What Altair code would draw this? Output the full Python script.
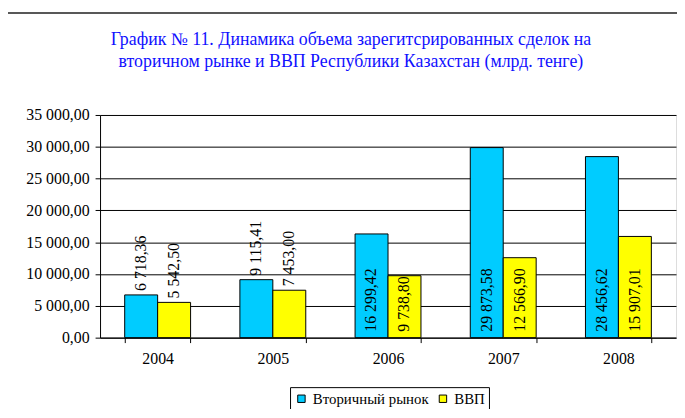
import altair as alt
import pandas as pd

years = ["2004", "2005", "2006", "2007", "2008"]
secondary = [6718.36, 9115.41, 16299.42, 29873.58, 28456.62]
gdp = [5542.50, 7453.00, 9738.80, 12566.90, 15907.01]
series_names = ["Вторичный рынок", "ВВП"]
series_colors = ["#00CCFF", "#FFFF00"]
y_ticks = [0, 5000, 10000, 15000, 20000, 25000, 30000, 35000]
title_lines = [
    "График № 11. Динамика объема зарегитсрированных сделок на",
    "вторичном рынке и ВВП Республики Казахстан (млрд. тенге)",
]

rows = []
for i, yr in enumerate(years):
    rows.append({"year": yr, "series": series_names[0], "value": secondary[i]})
    rows.append({"year": yr, "series": series_names[1], "value": gdp[i]})
df = pd.DataFrame(rows)

FONT = "Liberation Serif"

xenc = alt.X(
    "year:N",
    title=None,
    scale=alt.Scale(paddingInner=0.428, paddingOuter=0.214),
    axis=alt.Axis(
        labelAngle=0, labelFont=FONT, labelFontSize=16, labelColor="#000",
        tickBand="extent", tickSize=5, tickColor="#000", domainColor="#000",
        labelPadding=8, grid=False,
    ),
)
xoff = alt.XOffset("series:N", scale=alt.Scale(domain=series_names, paddingInner=0, paddingOuter=0))
yaxis = alt.Axis(
    values=y_ticks, format=",.2f", labelFont=FONT, labelFontSize=16, labelColor="#000",
    tickSize=5, tickColor="#000", domainColor="#000", labelPadding=6, labelOverlap=False,
    grid=True, gridColor="#000", gridWidth=1,
)
yscale = alt.Scale(domain=[0, 35000], nice=False)
yenc = alt.Y("value:Q", title=None, scale=yscale, axis=yaxis)

base = alt.Chart(df)

bars = base.mark_bar(stroke="#000", strokeWidth=1).encode(
    x=xenc,
    xOffset=xoff,
    y=yenc,
    color=alt.Color(
        "series:N",
        scale=alt.Scale(domain=series_names, range=series_colors),
        legend=alt.Legend(
            title=None, orient="none", legendX=192, legendY=275, direction="horizontal",
            labelFont=FONT, labelFontSize=15, labelColor="#000",
            symbolType="square", symbolSize=56, symbolStrokeColor="#000", symbolStrokeWidth=1,
            strokeColor="#000", fillColor="#fff", padding=4, columnPadding=6,
        ),
    ),
)

label_common = dict(angle=270, align="left", baseline="middle", font=FONT, fontSize=16, color="#000")

labels_out = base.transform_filter("datum.value < 9500").mark_text(dx=4, **label_common).encode(
    x=xenc, xOffset=xoff, y=yenc, text=alt.Text("value:Q", format=",.2f")
)
labels_in = base.transform_filter("datum.value >= 9500").mark_text(dx=6, **label_common).encode(
    x=xenc, xOffset=xoff, y=alt.datum(0, scale=yscale, axis=yaxis, title=None),
    text=alt.Text("value:Q", format=",.2f"),
)

frame = alt.Chart(alt.Data(values=[{"a": 1}])).mark_rect(
    fill="transparent", stroke="#222", strokeWidth=1.5
).encode(x=alt.value(-94), x2=alt.value(700), y=alt.value(-103), y2=alt.value(400))

title = alt.Chart(alt.Data(values=[{"a": 1}])).mark_text(
    text=title_lines, font=FONT, fontSize=18, color="#1010FF", align="center",
    baseline="alphabetic", lineHeight=22.5,
).encode(x=alt.value(253.5), y=alt.value(-70.5))

chart = alt.layer(frame, title, bars, labels_out, labels_in).properties(
    width=582,
    height=225,
    autosize=alt.AutoSizeParams(type="none"),
    padding={"left": 93, "top": 106, "right": 1, "bottom": 70},
).configure_view(stroke="#808080").configure(
    locale={"number": {"decimal": ",", "thousands": " ", "grouping": [3], "currency": ["", ""]}}
)

chart.save("out.html", embed_options={"renderer": "svg", "actions": False})
